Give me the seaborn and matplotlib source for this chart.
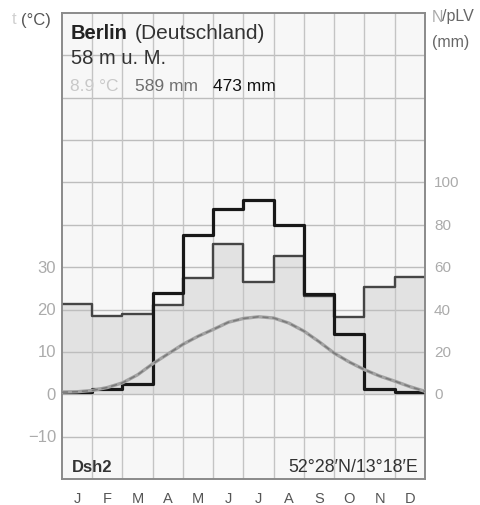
import numpy as np
import pandas as pd
import matplotlib
matplotlib.use("Agg")
import matplotlib.pyplot as plt
import seaborn as sns

# ---------------- data ----------------
months = ["J", "F", "M", "A", "M", "J", "J", "A", "S", "O", "N", "D"]
precip_N = [42.6, 36.8, 38.0, 42.3, 55.0, 71.0, 53.0, 65.4, 46.5, 36.3, 50.6, 55.3]
pot_evap_pLV = [1.0, 2.4, 4.7, 47.8, 75.0, 87.4, 91.5, 80.0, 47.5, 28.4, 2.7, 1.2]
# temperature curve read every half month (month edges and centres), Jan 1 .. Dec 31
temp_curve = [0.5, 0.6, 0.9, 1.6, 2.7, 4.6, 7.2, 9.5, 11.8, 13.7, 15.3, 17.0, 17.9,
              18.3, 18.0, 16.8, 14.9, 12.4, 9.7, 7.6, 5.8, 4.3, 3.1, 1.8, 0.7]
temp_ticks = [-10, 0, 10, 20, 30]
mm_ticks = [0, 20, 40, 60, 80, 100]
station = "Berlin"
country = "(Deutschland)"
elevation = "58 m u. M."
annual_temp = "8.9 °C"
annual_N = "589 mm"
annual_pLV = "473 mm"
climate_class = "Dsh2"
coords = "52°28′N/13°18′E"

# ---------------- style ----------------
sns.set_theme(style="white")
plt.rcParams["font.family"] = ["Liberation Sans", "DejaVu Sans"]

W, H = 481, 506
fig = plt.figure(figsize=(W / 100, H / 100), dpi=100)
fig.patch.set_facecolor("white")

def fx(px):
    return px / W

def fy(py):
    return 1 - py / H

L, R, T, B = 62, 425, 14, 480
# precipitation axis (bottom layer) and temperature axis (top layer)
ax2 = fig.add_axes([fx(L), fy(B), fx(R) - fx(L), fy(T) - fy(B)])
ax2.set_facecolor("#f7f7f7")
ax2.set_xlim(0, 12)
ax2.set_ylim(-40, 180)
ax = fig.add_axes([fx(L), fy(B), fx(R) - fx(L), fy(T) - fy(B)], sharex=ax2)
ax.patch.set_visible(False)
ax.set_ylim(-20, 90)

# step coordinates built from monthly arrays
edges = np.arange(13)
step_x = np.repeat(edges, 2)[1:-1]
step_N = np.repeat(np.array(precip_N), 2)
step_P = np.repeat(np.array(pot_evap_pLV), 2)

# fill under precipitation
ax2.fill_between(step_x, 0, step_N, color="#e2e2e2", lw=0, zorder=1)

# grid (on the bottom axis, under the lines)
for v in range(-20, 180, 20):
    ax2.axhline(v, color="#bdbdbd", lw=1.0, zorder=2)
for m in range(1, 12):
    ax2.axvline(m, color="#c4c4c4", lw=1.0, zorder=2)

# precipitation (N) step line
sns.lineplot(x=step_x, y=step_N, ax=ax2, sort=False, estimator=None,
             color="#454545", lw=1.7, zorder=4)
# potential evaporation (pLV) step line
sns.lineplot(x=step_x, y=step_P, ax=ax2, sort=False, estimator=None,
             color="#181818", lw=2.3, zorder=5)
# temperature curve
tx = np.arange(len(temp_curve)) / 2.0
sns.lineplot(x=tx, y=temp_curve, ax=ax, sort=False, estimator=None,
             color="#a3a3a3", lw=2.4, zorder=6)
sns.lineplot(x=tx, y=temp_curve, ax=ax, sort=False, estimator=None,
             color="#7a7a7a", lw=1.1, ls=(0, (4, 2.5)), zorder=7)

for a in (ax, ax2):
    a.set_xlim(0, 12)
    a.set_xticks([])
    a.set_yticks([])
    a.set_xlabel("")
    a.set_ylabel("")
    for s in a.spines.values():
        s.set_color("#8a8a8a")
        s.set_linewidth(1.2)

# tick labels
def y_of_temp(t):
    return B - (t + 20) / 110 * (B - T)

for t in temp_ticks:
    lab = str(t) if t >= 0 else "−" + str(-t)
    fig.text(fx(56), fy(y_of_temp(t)), lab, ha="right", va="center",
             fontsize=12, color="#ababab")
for mm in mm_ticks:
    fig.text(fx(434), fy(y_of_temp(mm / 2)), str(mm), ha="left", va="center",
             fontsize=11, color="#ababab")

# month labels
for i, m in enumerate(months):
    fig.text(fx(L + (i + 0.5) * (R - L) / 12), fy(499), m, ha="center", va="center",
             fontsize=10.5, color="#555555")

# header text
fig.text(fx(71), fy(39), station, fontsize=14.5, fontweight="bold", color="#222222",
         va="baseline", ha="left")
fig.text(fx(135), fy(39), country, fontsize=15, color="#333333", va="baseline", ha="left")
fig.text(fx(71), fy(64), elevation, fontsize=14.5, color="#333333", va="baseline", ha="left")
fig.text(fx(70), fy(91), annual_temp, fontsize=12.5, color="#c8c8c8", va="baseline", ha="left")
fig.text(fx(135), fy(91), annual_N, fontsize=12.5, color="#6e6e6e", va="baseline", ha="left")
fig.text(fx(213), fy(91), annual_pLV, fontsize=12.5, color="#111111", va="baseline", ha="left")

# bottom labels
fig.text(fx(72), fy(472), climate_class, fontsize=12, fontweight="bold", color="#333333",
         va="baseline", ha="left")
fig.text(fx(418), fy(472), coords, fontsize=12.8, color="#333333", va="baseline", ha="right",
         family=["Liberation Sans", "DejaVu Sans"])

# axis titles
fig.text(fx(12), fy(20), "t", fontsize=12, color="#d0d0d0", va="center", ha="left")
fig.text(fx(21), fy(20), "(°C)", fontsize=12, color="#555555", va="center", ha="left")
fig.text(fx(432), fy(17), "N", fontsize=11.5, color="#aaaaaa", va="center", ha="left")
fig.text(fx(442), fy(17), "/pLV", fontsize=11.5, color="#666666", va="center", ha="left")
fig.text(fx(432), fy(43), "(mm)", fontsize=11.5, color="#666666", va="center", ha="left")

fig.savefig("out.png", dpi=100, facecolor="white")
